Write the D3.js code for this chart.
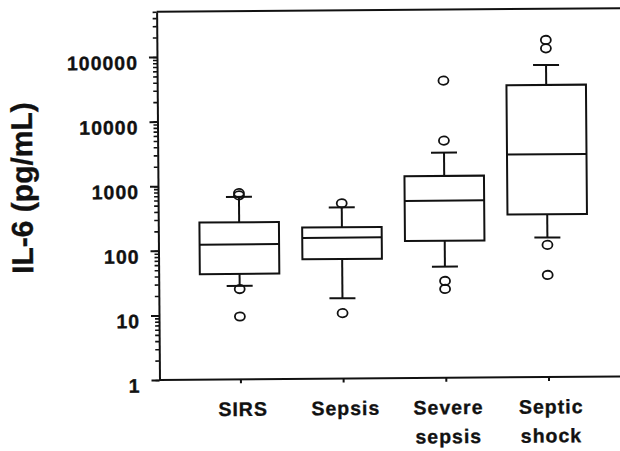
<!DOCTYPE html>
<html>
<head>
<meta charset="utf-8">
<script src="https://cdn.jsdelivr.net/npm/d3@7"></script>
<style>
  html, body { margin: 0; padding: 0; background: #fff; }
  svg text { font-family: "Liberation Sans", Arial, Helvetica, sans-serif; font-weight: bold; fill: #111; stroke: #111; stroke-width: 0.35px; }
</style>
</head>
<body>
<svg id="chart" width="620" height="451"></svg>
<script>
// IL-6 by sepsis stage, box plots on a log axis
var categories = ['SIRS', 'Sepsis', 'Severe sepsis', 'Septic shock'];
var labelLines = [['SIRS'], ['Sepsis'], ['Severe', 'sepsis'], ['Septic', 'shock']];
var lowerWhisker = [28, 17.5, 52.5, 144];
var q1 = [43, 71, 132, 330];
var median = [123, 152, 551, 2800];
var q3 = [270, 220, 1330, 33100];
var upperWhisker = [670, 448, 3050, 67400];
var outliers = [
  [9.4, 25, 705, 765],
  [10.3, 516],
  [23.7, 31.5, 4680, 39700],
  [37.9, 110.6, 122000, 164500]
];
var yLabelTicks = [1, 10, 100, 1000, 10000, 100000];
var yDomain = [1, 500000];
var yTitle = 'IL-6 (pg/mL)';

var ink = '#111';
var svg = d3.select('#chart');
// the printed figure sits slightly tilted
var g = svg.append('g').attr('transform', 'rotate(-0.45,160,380)');

var y = d3.scaleLog().domain(yDomain).range([380, 11.8]);
var x = d3.scalePoint().domain(categories).range([240.4, 548.5]);
var boxW = 79.5, capW = 26;
var left = 159.5;

// frame: top rule and baseline run off to the right
g.append('line').attr('x1', left).attr('x2', 640)
  .attr('y1', y(yDomain[1])).attr('y2', y(yDomain[1]))
  .attr('stroke', ink).attr('stroke-width', 2);
g.append('line').attr('x1', left).attr('x2', 640)
  .attr('y1', y(1)).attr('y2', y(1))
  .attr('stroke', ink).attr('stroke-width', 2);

// minor ticks
g.append('g').attr('transform', 'translate(' + left + ',0)')
  .call(d3.axisLeft(y).tickValues(y.ticks()).tickSize(4).tickFormat(''))
  .call(function(s){
    s.select('.domain').remove();
    s.selectAll('line').attr('stroke', ink).attr('stroke-width', 1.6);
  });

// major ticks and labels
g.append('g').attr('transform', 'translate(' + left + ',0)')
  .call(d3.axisLeft(y).tickValues(yLabelTicks).tickSize(8).tickPadding(11)
    .tickFormat(d3.format('d')).tickSizeOuter(0))
  .call(function(s){
    s.select('.domain').attr('stroke', ink).attr('stroke-width', 2);
    s.selectAll('line').attr('stroke', ink).attr('stroke-width', 2);
    s.selectAll('text')
      .attr('font-size', '19.5px')
      .attr('letter-spacing', '1px')
      .attr('dy', '0.62em')
      .attr('fill', ink);
  });

// x ticks
g.append('g').attr('transform', 'translate(0,' + y(1) + ')')
  .call(d3.axisBottom(x).tickSize(4).tickFormat(''))
  .call(function(s){
    s.select('.domain').remove();
    s.selectAll('line').attr('stroke', ink).attr('stroke-width', 2);
  });

// category labels
categories.forEach(function(c, i) {
  var t = g.append('text')
    .attr('text-anchor', 'middle')
    .attr('font-size', '19.5px')
    .attr('letter-spacing', '1px');
  labelLines[i].forEach(function(line, j) {
    t.append('tspan')
      .attr('x', x(c) + 2.5)
      .attr('y', 416.5 + j * 29)
      .text(line);
  });
});

// y title
g.append('text')
  .attr('transform', 'translate(34,187) rotate(-90)')
  .attr('text-anchor', 'middle')
  .attr('font-size', '30px')
  .text(yTitle);

// boxes
var boxes = g.selectAll('.box')
  .data(categories)
  .enter().append('g')
  .attr('class', 'box')
  .attr('stroke', ink)
  .attr('stroke-width', 2)
  .attr('fill', 'none');

boxes.each(function(c, i) {
  var b = d3.select(this);
  var cx = x(c);
  b.append('line').attr('x1', cx).attr('x2', cx)
    .attr('y1', y(q3[i])).attr('y2', y(upperWhisker[i]));
  b.append('line').attr('x1', cx).attr('x2', cx)
    .attr('y1', y(q1[i])).attr('y2', y(lowerWhisker[i]));
  b.append('line').attr('x1', cx - capW / 2).attr('x2', cx + capW / 2)
    .attr('y1', y(upperWhisker[i])).attr('y2', y(upperWhisker[i]));
  b.append('line').attr('x1', cx - capW / 2).attr('x2', cx + capW / 2)
    .attr('y1', y(lowerWhisker[i])).attr('y2', y(lowerWhisker[i]));
  b.append('rect')
    .attr('x', cx - boxW / 2).attr('width', boxW)
    .attr('y', y(q3[i])).attr('height', y(q1[i]) - y(q3[i]))
    .attr('fill', '#fff');
  b.append('line').attr('x1', cx - boxW / 2).attr('x2', cx + boxW / 2)
    .attr('y1', y(median[i])).attr('y2', y(median[i]));
  // outlier marks print a touch wider than tall
  b.selectAll('ellipse')
    .data(outliers[i])
    .enter().append('ellipse')
    .attr('cx', cx)
    .attr('cy', function(v){ return y(v); })
    .attr('rx', 5)
    .attr('ry', 4.2)
    .attr('stroke-width', 1.8);
});
</script>
</body>
</html>
